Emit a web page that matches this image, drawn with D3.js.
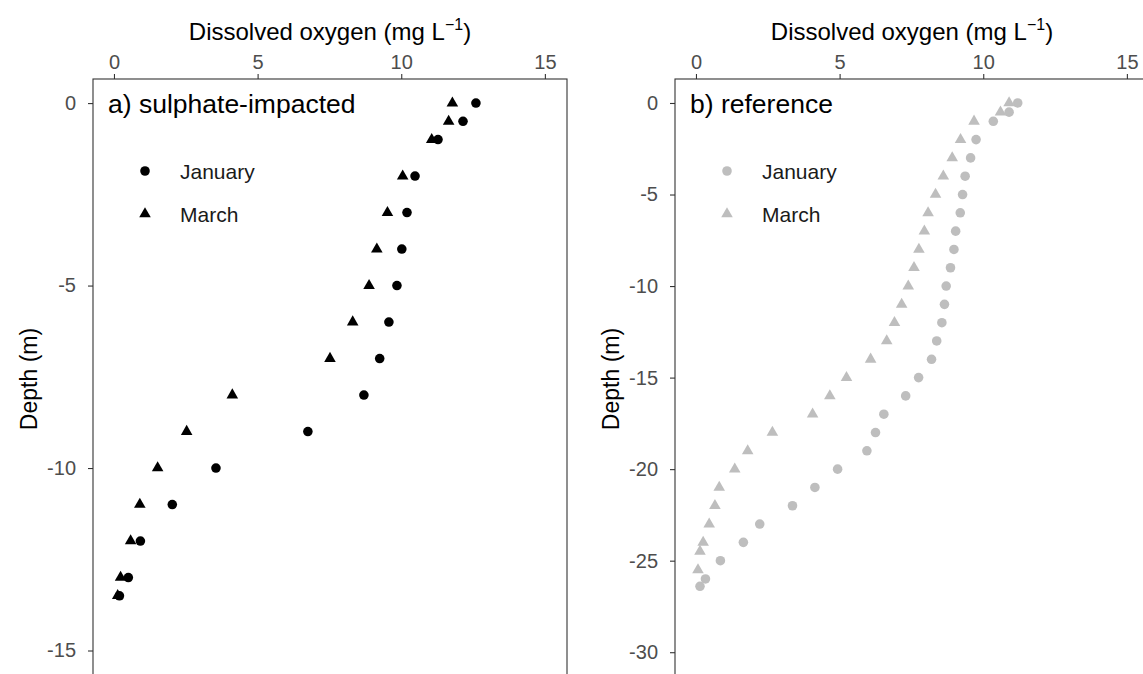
<!DOCTYPE html>
<html>
<head>
<meta charset="utf-8">
<script src="https://cdn.jsdelivr.net/npm/d3@7"></script>
<style>
  body { margin: 0; background: #fff; }
  text { font-family: "Liberation Sans", Arial, sans-serif; }
</style>
</head>
<body>
<svg id="chart" width="1143" height="674"></svg>
<script>
// a) sulphate-impacted
const depthA = [0, -0.5, -1, -2, -3, -4, -5, -6, -7, -8, -9, -10, -11, -12, -13, -13.5];
const doA_jan = [12.6, 12.15, 11.28, 10.48, 10.2, 10.02, 9.85, 9.57, 9.25, 8.7, 6.75, 3.55, 2.03, 0.92, 0.5, 0.19];
const doA_mar = [11.78, 11.65, 11.06, 10.05, 9.52, 9.15, 8.88, 8.31, 7.52, 4.12, 2.53, 1.52, 0.9, 0.58, 0.23, 0.13];

// b) reference
const depthB_jan = [0, -0.5, -1, -2, -3, -4, -5, -6, -7, -8, -9, -10, -11, -12, -13, -14, -15, -16, -17, -18, -19, -20, -21, -22, -23, -24, -25, -26, -26.4];
const doB_jan = [11.2, 10.9, 10.35, 9.75, 9.56, 9.37, 9.28, 9.2, 9.04, 8.98, 8.86, 8.71, 8.65, 8.56, 8.38, 8.2, 7.75, 7.3, 6.54, 6.25, 5.95, 4.93, 4.14, 3.36, 2.22, 1.65, 0.85, 0.33, 0.14];
const depthB_mar = [0, -0.5, -1, -2, -3, -4, -5, -6, -7, -8, -9, -10, -11, -12, -13, -14, -15, -16, -17, -18, -19, -20, -21, -22, -23, -24, -24.5, -25.5];
const doB_mar = [10.9, 10.6, 9.68, 9.21, 8.92, 8.61, 8.34, 8.08, 7.95, 7.76, 7.59, 7.39, 7.16, 6.91, 6.64, 6.08, 5.24, 4.66, 4.06, 2.66, 1.8, 1.35, 0.81, 0.66, 0.46, 0.25, 0.14, 0.07];

const xTicks = [0, 5, 10, 15];
const yTicksA = [0, -5, -10, -15];
const yTicksB = [0, -5, -10, -15, -20, -25, -30];
const months = ["January", "March"];

const svg = d3.select("#chart");
const panelTop = 79, panelBottom = 687;

function drawPanel(opt) {
  const x = d3.scaleLinear().domain([-0.73, 15.77]).range([opt.left, opt.right]);
  const y = d3.scaleLinear().domain(opt.yDomain).range([panelTop, panelBottom]);
  const g = svg.append("g");

  // x axis sits on top of the panel
  const xa = g.append("g").attr("transform", `translate(0,${panelTop})`)
    .call(d3.axisTop(x).tickValues(xTicks).tickSize(5).tickPadding(5).tickFormat(d => String(d)));
  const ya = g.append("g").attr("transform", `translate(${opt.left},0)`)
    .call(d3.axisLeft(y).tickValues(opt.yTicks).tickSize(5).tickPadding(12).tickFormat(d => String(d)));
  [xa, ya].forEach(a => {
    a.select(".domain").remove();
    a.selectAll("line").attr("stroke", "#333").attr("stroke-width", 1.1);
    a.selectAll("text").attr("fill", "#4d4d4d").style("font-size", "20px");
  });

  // points
  const circle = d3.symbol().type(d3.symbolCircle).size(72);
  const tri = d3.symbol().type(d3.symbolTriangle).size(58);
  g.selectAll(".jan").data(opt.jan).join("path")
    .attr("class", "jan")
    .attr("d", circle)
    .attr("transform", d => `translate(${x(d[1])},${y(d[0])})`)
    .attr("fill", opt.color);
  g.selectAll(".mar").data(opt.mar).join("path")
    .attr("class", "mar")
    .attr("d", tri)
    .attr("transform", d => `translate(${x(d[1])},${y(d[0])})`)
    .attr("fill", opt.color);

  // panel border
  g.append("rect")
    .attr("x", opt.left).attr("y", panelTop)
    .attr("width", opt.right - opt.left).attr("height", panelBottom - panelTop)
    .attr("fill", "none").attr("stroke", "#333").attr("stroke-width", 1.1);

  // panel label
  g.append("text").attr("x", opt.left + 15).attr("y", 113)
    .attr("fill", "#000").style("font-size", "26.5px").text(opt.label);

  // legend
  months.forEach((m, i) => {
    const ly = 171 + i * 43;
    g.append("path").attr("d", i === 0 ? circle : tri)
      .attr("transform", `translate(${opt.left + 52},${ly})`).attr("fill", opt.color);
    g.append("text").attr("x", opt.left + 87).attr("y", ly + 7.5)
      .attr("fill", "#1a1a1a").style("font-size", "21px").text(m);
  });

  // axis titles
  const cx = (opt.left + opt.right) / 2;
  const t = g.append("text").attr("x", cx).attr("y", 40).attr("text-anchor", "middle")
    .attr("fill", "#000").style("font-size", "24px");
  t.append("tspan").text("Dissolved oxygen (mg L");
  t.append("tspan").attr("dy", -10).style("font-size", "16px").text("\u22121");
  t.append("tspan").attr("dy", 10).text(")");

  g.append("text").attr("transform", `translate(${opt.left - 56},${(panelTop + panelBottom) / 2 - 4}) rotate(-90)`)
    .attr("text-anchor", "middle").attr("fill", "#000").style("font-size", "23px")
    .text("Depth (m)");
}

drawPanel({
  left: 93, right: 567, yDomain: [0.66, -16.0], yTicks: yTicksA,
  jan: depthA.map((d, i) => [d, doA_jan[i]]),
  mar: depthA.map((d, i) => [d, doA_mar[i]]),
  color: "#000", label: "a) sulphate-impacted"
});
drawPanel({
  left: 675, right: 1149, yDomain: [1.31, -31.9], yTicks: yTicksB,
  jan: depthB_jan.map((d, i) => [d, doB_jan[i]]),
  mar: depthB_mar.map((d, i) => [d, doB_mar[i]]),
  color: "#bebebe", label: "b) reference"
});
</script>
</body>
</html>
